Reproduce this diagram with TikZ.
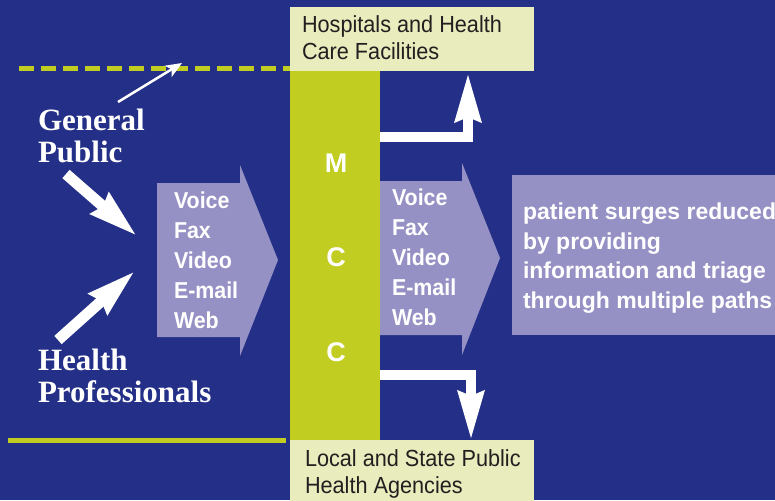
\documentclass[tikz,border=0pt]{standalone}
\usepackage{fontspec}
\setmainfont{Liberation Sans}
\newfontfamily\tnr{Liberation Serif}
\newfontfamily\narrow{Liberation Sans}[FakeStretch=0.93]
\usetikzlibrary{arrows.meta}
\definecolor{bg}{RGB}{36,48,136}
\definecolor{lime}{RGB}{194,205,34}
\definecolor{cream}{RGB}{233,236,189}
\definecolor{lav}{RGB}{150,145,196}
\definecolor{ink}{RGB}{35,31,32}
\tikzset{
  box/.style={anchor=north west, inner sep=0pt, outer sep=0pt},
  lbl/.style={anchor=base west, align=left, inner sep=0pt, outer sep=0pt},
  boxtext/.style={lbl, text=ink, font={\narrow\fontsize{23.3}{27}\selectfont}},
  chan/.style={lbl, text=white, font={\narrow\bfseries\fontsize{23}{30}\selectfont}},
  restext/.style={lbl, text=white, font={\bfseries\fontsize{23}{29.5}\selectfont}},
  who/.style={lbl, text=white, font={\tnr\bfseries\fontsize{31}{32}\selectfont}},
  mccl/.style={anchor=base, inner sep=0pt, text=white, font={\bfseries\fontsize{27}{30}\selectfont}},
  fat/.style={white, line width=11pt, -{Stealth[length=48pt, width=26pt, inset=3pt]}},
  bent/.style={white, line width=10pt, -{Stealth[length=48pt, width=25pt, inset=4pt]}},
  thin/.style={white, line width=2.5pt, -{Stealth[length=16pt, width=13pt, inset=4pt]}}
}
\begin{document}
\begin{tikzpicture}[x=1pt, y=-1pt]
\useasboundingbox (0,0) rectangle (775,500);
\fill[bg] (0,0) rectangle (775,500);

% horizontal lines
\draw[lime, line width=5pt, dash pattern=on 15pt off 7pt] (19,69) -- (290,69);
\draw[lime, line width=5pt] (8,440) -- (286,440);

% boxes
\node[box, fill=cream, minimum width=244pt, minimum height=64pt] (hosp) at (290,7) {};
\node[box, fill=cream, minimum width=244pt, minimum height=62pt] (local) at (290,440) {};
\node[box, fill=lime, minimum width=90pt, minimum height=369pt] (mcc) at (290,71) {};
\node[box, fill=lav, minimum width=275pt, minimum height=160pt] (res) at (512,175) {};

% (base anchor of a multi-line node = baseline of its last line)
\node[boxtext] (hospt) at (302,60) {Hospitals and Health\\Care Facilities};
\node[boxtext] (localt) at (305,493) {Local and State Public\\Health Agencies};

% purple channel arrows
\fill[lav] (157,183) -- (240,183) -- (240,165) -- (278,260) -- (240,356) -- (240,337) -- (157,337) -- cycle;
\fill[lav] (380,181) -- (462,181) -- (462,163) -- (500,258) -- (462,355) -- (462,335) -- (380,335) -- cycle;

\node[chan] (chanl) at (174,328) {Voice\\Fax\\Video\\E-mail\\Web};
\node[chan] (chanr) at (392,325) {Voice\\Fax\\Video\\E-mail\\Web};
\node[restext] (rest) at (523,308) {patient surges reduced\\by providing\\information and triage\\through multiple paths};

% MCC letters
\node[mccl] (m1) at (336,172) {M};
\node[mccl] (c1) at (336,266) {C};
\node[mccl] (c2) at (336,361) {C};

% people
\node[who] (gp) at (38,162) {General\\Public};
\node[who] (hp) at (38,402) {Health\\Professionals};

% arrows
\coordinate (gpa) at (66,174);
\coordinate (gpb) at (137,236);
\coordinate (hpa) at (58,340);
\coordinate (hpb) at (135,271);
\coordinate (tha) at (118,102);
\coordinate (thb) at (182,63);
\draw[fat] (gpa) -- (gpb);
\draw[fat] (hpa) -- (hpb);
\draw[thin] (tha) -- (thb);

\coordinate (u0) at (380,137);
\coordinate (u1) at (468,73);
\coordinate (d0) at (380,375);
\coordinate (d1) at (471,440);
\draw[bent] (u0) -| (u1);
\draw[bent] (d0) -| (d1);
\end{tikzpicture}
\end{document}
